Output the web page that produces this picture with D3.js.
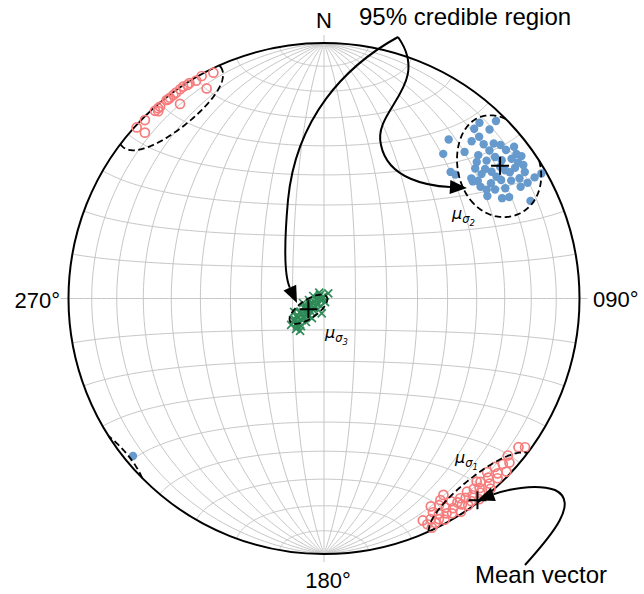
<!DOCTYPE html>
<html>
<head>
<meta charset="utf-8">
<script src="https://cdn.jsdelivr.net/npm/d3@7"></script>
<style>
  body { margin: 0; background: #fff; }
  svg { display: block; }
</style>
</head>
<body>
<svg id="chart" width="644" height="594"></svg>
<script>
// ---- Data: orientations as [trend, plunge] in degrees (negative plunge = upward) ----
const sigma1Samples = [
  [127.4,4.7],[126.5,2.4],[130.5,6.0],[131.5,3.5],[132.8,5.2],[133.5,1.8],[134.6,6.8],[135.2,4.0],
  [136.0,2.5],[136.8,7.5],[137.5,5.5],[138.2,3.2],[138.8,1.2],[139.5,6.3],[140.2,7.4],[140.6,4.5],
  [141.2,2.8],[141.8,5.8],[142.3,0.8],[142.9,3.9],[143.5,6.6],[144.0,2.2],[144.6,4.8],[145.1,1.5],
  [145.7,6.0],[146.2,3.4],[146.8,5.2],[147.3,0.9],[147.9,7.0],[148.4,4.1],[148.7,11.0],[149.2,2.4],
  [149.8,5.9],[150.3,3.6],[150.9,8.2],[151.4,1.6],[151.9,5.0],[152.5,3.0],[153.0,6.8],[153.6,2.2],
  [154.2,4.6],[154.8,1.0],[155.4,3.2],[156.0,5.5],[152.8,9.4],[150.0,9.8],
  [153.9,-1.8],[151.2,-0.7],[149.6,-1.3],[148.0,-0.7],[146.4,-0.5],[145.5,-0.7],[144.3,-0.9],
  [143.5,-1.0],[142.5,-1.1],[141.6,-1.0],[138.9,-1.4],[138.0,-1.3],[134.9,-1.2],[132.4,-0.8],
  [132.8,-5.0],[150.8,-6.5],[143.5,-5.9],[139.5,-1.4],[147.4,-0.9],[138.5,-2.4],[142.0,-1.2]
];
const sigma2Samples = [
  [38.1,22.0],[39.5,27.5],[43.8,21.6],[45.0,30.6],[46.7,30.0],[41.5,12.3],[41.5,9.0],[44.1,3.7],
  [44.4,8.2],[43.8,13.3],[43.2,16.7],[46.0,14.2],[48.2,14.2],[47.1,18.7],[49.0,9.3],[50.8,8.9],
  [51.4,5.4],[54.2,5.3],[53.3,9.3],[52.1,12.9],[49.7,17.7],[49.3,23.0],[50.8,26.5],[51.7,22.5],
  [52.9,18.9],[54.7,14.2],[55.6,10.3],[57.8,7.9],[60.1,5.5],[60.1,2.1],[58.4,11.1],[57.8,14.5],
  [56.2,17.7],[55.4,21.7],[54.5,25.7],[51.8,26.8],[57.5,21.7],[58.7,18.1],[60.4,12.5],[60.4,9.2],
  [57.9,25.5],[60.6,21.1],[61.3,18.5],[64.7,11.6],[50.4,14.2],[55.0,8.0],[52.6,25.2],[53.2,15.0],
  [51.2,20.2],[55.8,13.1],[54.8,18.5],[53.1,6.5],[56.2,6.8],[48.2,20.9],[47.6,11.0],[56.2,24.4],
  [50.5,-3.5]
];
const sigma3Samples = [
  [321.0,87.6],[39.6,87.9],[283.2,86.5],[164.1,88.8],[201.8,87.4],[259.4,87.4],[248.6,85.2],[244.6,83.0],
  [240.6,81.3],[238.0,79.5],[235.3,78.0],[227.8,78.4],[219.9,78.6],[216.4,77.2],[222.6,76.9],[225.7,81.1],
  [225.9,82.9],[223.7,85.0],[188.8,85.2],[245.8,79.6],[231.2,76.6],[217.5,80.6],[211.6,82.7],[284.0,89.3],
  [264.3,85.2],[257.9,83.2],[230.2,86.3],[233.1,79.7],[238.3,83.7],[233.4,78.6],[236.0,81.2],[228.6,81.1],
  [232.7,82.4],[233.7,83.3],[240.5,84.5],[243.4,85.4],[247.8,86.2],[248.7,86.9],[265.9,87.8],[286.7,88.3],
  [243.4,88.9],[326.3,89.4],[223.9,84.1],[226.5,85.6],[226.8,79.1],[225.7,80.2],[224.5,77.8],[248.5,83.5],
  [231.8,87.2],[311.2,88.3],[220.6,82.7]
];
// Posterior mean vectors [trend, plunge]
const meanNames = ["σ1", "σ2", "σ3"];
const meanTrends = [142.75, 53.0, 235.5];
const meanPlunges = [0.88, 14.8, 84.0];
// 95% credible regions: centre [trend, plunge], semi-axes (deg), axis rotation from trend toward plunge (deg)
const regionTrends = [141.5, 53.0, 235.5];
const regionPlunges = [-2.0, 14.8, 84.0];
const regionSemiA = [14.5, 17.0, 7.0];
const regionSemiB = [12.0, 12.6, 2.9];
const regionRot = [0, 76, 90];
// Azimuth labels
const azimuthDeg = [0, 90, 180, 270];
const azimuthText = ["N", "090°", "180°", "270°"];
// Arrow targets [trend, plunge]
const arrowTargets = [[260.5, 81.3], [52.3, 30.0]];

// ---- Layout ----
const cx = 324, cy = 298.5, R = 255.5;
const rad = Math.PI / 180, deg = 180 / Math.PI;
const svg = d3.select("#chart");
const FONT = "'Liberation Sans', Arial, Helvetica, sans-serif";

// Lambert azimuthal equal-area, lower hemisphere, north up
const proj = d3.geoAzimuthalEqualArea().scale(R / Math.SQRT2).translate([cx, cy]).precision(0.1);
const projClip = d3.geoAzimuthalEqualArea().scale(R / Math.SQRT2).translate([cx, cy]).clipAngle(90).precision(0.1);
const gridPath = d3.geoPath(proj);
const clipPath = d3.geoPath(projClip);

// unit vector in (down, east, north) frame
function vec(t, p) {
  const T = t * rad, P = p * rad;
  return [Math.sin(P), Math.cos(P) * Math.sin(T), Math.cos(P) * Math.cos(T)];
}
function rawLonLat(v) {
  return [Math.atan2(v[1], v[0]) * deg, Math.asin(Math.max(-1, Math.min(1, v[2]))) * deg];
}
function lowerLonLat(v) {
  return v[0] < 0 ? rawLonLat([-v[0], -v[1], -v[2]]) : rawLonLat(v);
}
function xy(t, p) { return proj(lowerLonLat(vec(t, p))); }

// ---- Grid (great circles through N/S and small circles about the N–S axis) ----
const meridians = d3.range(-80, 81, 10).map(lon => d3.range(-90, 90.001, 1).map(lat => [lon, lat]));
const parallels = d3.range(-80, 81, 10).filter(l => l !== 0).map(lat => d3.range(-90, 90.001, 1).map(lon => [lon, lat]));
const equator = [d3.range(-90, 90.001, 1).map(lon => [lon, 0])];
svg.append("path")
  .datum({ type: "MultiLineString", coordinates: meridians.concat(parallels, equator) })
  .attr("d", gridPath)
  .attr("fill", "none").attr("stroke", "#c6c6c6").attr("stroke-width", 1);

// cardinal ticks
svg.append("g").selectAll("line").data(azimuthDeg).join("line")
  .attr("x1", d => cx + R * Math.sin(d * rad)).attr("y1", d => cy - R * Math.cos(d * rad))
  .attr("x2", d => cx + (R + 8) * Math.sin(d * rad)).attr("y2", d => cy - (R + 8) * Math.cos(d * rad))
  .attr("stroke", "#c6c6c6").attr("stroke-width", 1);

// primitive circle
svg.append("circle").attr("cx", cx).attr("cy", cy).attr("r", R)
  .attr("fill", "none").attr("stroke", "#000").attr("stroke-width", 2);

// ---- Samples ----
svg.append("g").selectAll("circle").data(sigma1Samples).join("circle")
  .attr("cx", d => xy(d[0], d[1])[0]).attr("cy", d => xy(d[0], d[1])[1]).attr("r", 4.5)
  .attr("fill", "none").attr("stroke", "#f77c7c").attr("stroke-width", 1.7);

svg.append("g").selectAll("circle").data(sigma2Samples).join("circle")
  .attr("cx", d => xy(d[0], d[1])[0]).attr("cy", d => xy(d[0], d[1])[1]).attr("r", 4.2)
  .attr("fill", "#6699cc");

svg.append("g").selectAll("path").data(sigma3Samples).join("path")
  .attr("d", d => {
    const [x, y] = xy(d[0], d[1]), s = 4;
    return `M${x - s},${y - s}L${x + s},${y + s}M${x - s},${y + s}L${x + s},${y - s}`;
  })
  .attr("stroke", "#2e8b57").attr("stroke-width", 1.7).attr("fill", "none");

// ---- Credible regions (elliptical cones, shown with their antipodal part) ----
function regionRing(i) {
  const t = regionTrends[i], p = regionPlunges[i];
  const a = regionSemiA[i] * rad, b = regionSemiB[i] * rad, w = regionRot[i] * rad;
  const T = t * rad, P = p * rad;
  const m = vec(t, p);
  const eT = [0, Math.cos(T), -Math.sin(T)];
  const eP = [Math.cos(P), -Math.sin(P) * Math.sin(T), -Math.sin(P) * Math.cos(T)];
  const u1 = eT.map((c, k) => c * Math.cos(w) + eP[k] * Math.sin(w));
  const u2 = eT.map((c, k) => -c * Math.sin(w) + eP[k] * Math.cos(w));
  const ring = [], anti = [];
  for (let s = 0; s <= 360; s += 1) {
    const ps = s * rad;
    const rho = a * b / Math.sqrt((b * Math.cos(ps)) ** 2 + (a * Math.sin(ps)) ** 2);
    const v = m.map((c, k) => c * Math.cos(rho) + (u1[k] * Math.cos(ps) + u2[k] * Math.sin(ps)) * Math.sin(rho));
    ring.push(rawLonLat(v));
    anti.push(rawLonLat(v.map(c => -c)));
  }
  return { type: "MultiLineString", coordinates: [ring, anti] };
}
svg.append("g").selectAll("path").data(regionTrends.map((_, i) => regionRing(i))).join("path")
  .attr("d", clipPath)
  .attr("fill", "none").attr("stroke", "#000").attr("stroke-width", 1.8)
  .attr("stroke-dasharray", "6.5,3.5");

// ---- Mean vectors ----
svg.append("g").selectAll("path").data(meanTrends.map((t, i) => [t, meanPlunges[i]])).join("path")
  .attr("d", d => {
    const [x, y] = xy(d[0], d[1]), s = 9;
    return `M${x - s},${y}L${x + s},${y}M${x},${y - s}L${x},${y + s}`;
  })
  .attr("stroke", "#000").attr("stroke-width", 2).attr("fill", "none");

// mean labels  μ_{σ_n}
const muPos = [[455, 463], [452, 219], [325, 338]];
meanNames.forEach((nm, i) => {
  const t = svg.append("text").attr("x", muPos[i][0]).attr("y", muPos[i][1])
    .attr("font-family", "'DejaVu Sans', sans-serif").attr("font-style", "italic")
    .attr("font-size", 16).attr("fill", "#000");
  t.append("tspan").text("μ");
  t.append("tspan").attr("font-size", 11.5).attr("dy", 4).text(nm[0]);
  t.append("tspan").attr("font-size", 8.5).attr("dy", 2.5).text(nm.slice(1));
});

// ---- Azimuth labels ----
const labelPos = [[324, 28, "middle"], [593, 307, "start"], [328, 588, "middle"], [60, 308, "end"]];
svg.append("g").selectAll("text").data(azimuthText).join("text")
  .attr("x", (d, i) => labelPos[i][0]).attr("y", (d, i) => labelPos[i][1])
  .attr("text-anchor", (d, i) => labelPos[i][2])
  .attr("font-family", FONT).attr("font-size", 22).attr("fill", "#000")
  .text(d => d);

// ---- Annotations ----
svg.append("text").attr("x", 359).attr("y", 25).attr("font-family", FONT).attr("font-size", 24).text("95% credible region");
svg.append("text").attr("x", 475).attr("y", 583).attr("font-family", FONT).attr("font-size", 24).text("Mean vector");

function arrow(start, segs, tip) {
  // segs: list of [c1, c2, end]; last segment ends at the arrow tip
  const L = 17, W = 14;
  const lastC = segs[segs.length - 1][1];
  let dx = tip[0] - lastC[0], dy = tip[1] - lastC[1];
  const n = Math.hypot(dx, dy); dx /= n; dy /= n;
  const base = [tip[0] - dx * L, tip[1] - dy * L];
  const p = d3.path();
  p.moveTo(start[0], start[1]);
  segs.forEach((s, k) => {
    const end = k === segs.length - 1 ? base : s[2];
    p.bezierCurveTo(s[0][0], s[0][1], s[1][0], s[1][1], end[0], end[1]);
  });
  svg.append("path").attr("d", p.toString()).attr("fill", "none").attr("stroke", "#000").attr("stroke-width", 2);
  const px = -dy, py = dx;
  svg.append("path")
    .attr("d", `M${tip[0]},${tip[1]}L${base[0] + px * W / 2},${base[1] + py * W / 2}L${base[0] - px * W / 2},${base[1] - py * W / 2}Z`)
    .attr("fill", "#000");
}
const tip3 = xy(arrowTargets[0][0], arrowTargets[0][1]);
const tip2 = xy(arrowTargets[1][0], arrowTargets[1][1]);
const tip1 = xy(meanTrends[0], meanPlunges[0]);
arrow([398, 37], [[[345, 66], [296, 118], [288, 200]], [[284, 245], [284, 275], tip3]], tip3);
arrow([398, 37], [[[432, 85], [372, 110], [381, 145]], [[388, 180], [430, 186], tip2]], tip2);
arrow([525, 565], [[[552, 535], [580, 502], [555, 490]], [[535, 483], [505, 490], tip1]], tip1);
</script>
</body>
</html>
